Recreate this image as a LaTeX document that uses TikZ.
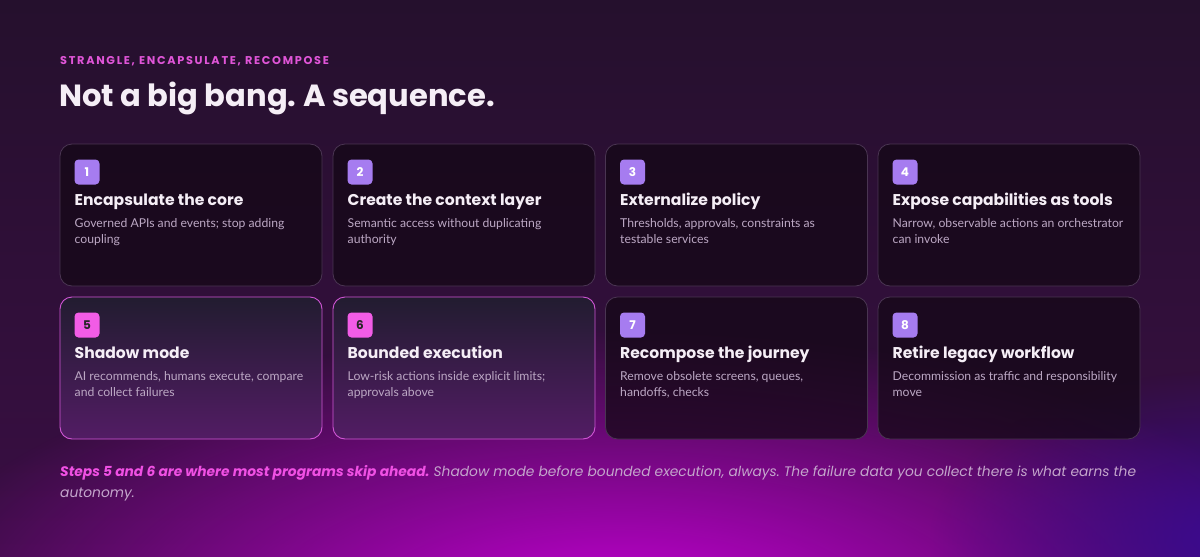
\documentclass[tikz,border=0pt]{standalone}
\usepackage{fontspec}
\setmainfont{Lato}
\newfontfamily\headfont{Poppins}
\newfontfamily\kickfont[LetterSpace=15]{Poppins}
\usetikzlibrary{fadings,calc}
\frenchspacing
\definecolor{bgtop}{HTML}{25102D}
\definecolor{bgbot}{HTML}{3A0E44}
\definecolor{glowmag}{HTML}{C400D4}
\definecolor{glowind}{HTML}{3A0A90}
\definecolor{kick}{HTML}{E055D8}
\definecolor{titlec}{HTML}{F5EEF6}
\definecolor{cardfill}{HTML}{140816}
\definecolor{cardline}{HTML}{4A3552}
\definecolor{desc}{HTML}{BCA8C4}
\definecolor{lav}{HTML}{A67CF0}
\definecolor{pinkb}{HTML}{F25CE6}
\definecolor{hitop}{HTML}{221C30}
\definecolor{hibot}{HTML}{521C64}
\definecolor{hiline}{HTML}{D055D5}
\definecolor{foot}{HTML}{C4A6CC}
\definecolor{footb}{HTML}{F050E4}
\tikzfading[name=glowfade, inner color=transparent!0, outer color=transparent!100]
\tikzset{
  card/.style={draw=cardline, line width=0.8pt, rounded corners=12pt, fill=cardfill, fill opacity=0.75},
  hicard/.style={draw=hiline, line width=0.9pt, rounded corners=12pt, top color=hitop, bottom color=hibot},
  badge/.style={rounded corners=4pt, minimum width=25pt, minimum height=25pt, inner sep=0pt, font=\headfont\fontsize{12}{12}\selectfont\bfseries},
  ctitle/.style={anchor=base west, inner sep=0pt, text=titlec, font=\headfont\fontsize{15.6}{20}\selectfont\bfseries},
  cdesc/.style={anchor=base west, inner sep=0pt, text=desc, font=\fontsize{12.2}{16}\selectfont},
}
\newcommand{\mycard}[9]{%
  % #1 name, #2 x, #3 y, #4 style, #5 badge colour, #6 number text colour, #7 number, #8 title, #9 desc
  \path[#4] (#2,#3) rectangle ++(262,142);
  \node[badge, fill=#5, text=#6] (#1b) at ($(#2,#3)+(27,28)$) {#7};
  \node[ctitle] (#1t) at ($(#2,#3)+(14.5,61)$) {#8};
  \node[cdesc, align=left] (#1d) at ($(#2,#3)+(14.5,99)$) {#9};
}
\begin{document}
\begin{tikzpicture}[x=1pt,y=-1pt]
\useasboundingbox (0,0) rectangle (1200,557);
\shade[top color=bgtop, bottom color=bgbot] (0,0) rectangle (1200,557);
\begin{scope}
\clip (0,0) rectangle (1200,557);
\fill[glowmag, path fading=glowfade] (620,610) ellipse (720pt and 280pt);
\fill[glowind, path fading=glowfade] (1230,540) ellipse (300pt and 170pt);
\end{scope}

\node[anchor=base west, inner sep=0pt, text=kick, font=\kickfont\fontsize{11.3}{12}\selectfont\bfseries] (kicker) at (60,64) {STRANGLE, ENCAPSULATE, RECOMPOSE};
\node[anchor=base west, inner sep=0pt, text=titlec, font=\headfont\fontsize{30.6}{34}\selectfont\bfseries] (title) at (59,106) {Not a big bang. A sequence.};

\mycard{c1}{60}{144}{card}{lav}{white}{1}{Encapsulate the core}{Governed APIs and events; stop adding\\coupling}
\mycard{c2}{333}{144}{card}{lav}{white}{2}{Create the context layer}{Semantic access without duplicating\\authority}
\mycard{c3}{605.5}{144}{card}{lav}{white}{3}{Externalize policy}{Thresholds, approvals, constraints as\\testable services}
\mycard{c4}{878}{144}{card}{lav}{white}{4}{Expose capabilities as tools}{Narrow, observable actions an orchestrator\\can invoke}
\mycard{c5}{60}{297}{hicard}{pinkb}{black!85}{5}{Shadow mode}{AI recommends, humans execute, compare\\and collect failures}
\mycard{c6}{333}{297}{hicard}{pinkb}{black!85}{6}{Bounded execution}{Low-risk actions inside explicit limits;\\approvals above}
\mycard{c7}{605.5}{297}{card}{lav}{white}{7}{Recompose the journey}{Remove obsolete screens, queues,\\handoffs, checks}
\mycard{c8}{878}{297}{card}{lav}{white}{8}{Retire legacy workflow}{Decommission as traffic and responsibility\\move}

\node[anchor=base west, inner sep=0pt, align=left, text=foot, font=\headfont\fontsize{13.8}{21}\selectfont\itshape] (footer) at (60,497)
 {{\color{footb}\bfseries Steps 5 and 6 are where most programs skip ahead.} Shadow mode before bounded execution, always. The failure data you collect there is what earns the\\autonomy.};
\end{tikzpicture}
\end{document}
